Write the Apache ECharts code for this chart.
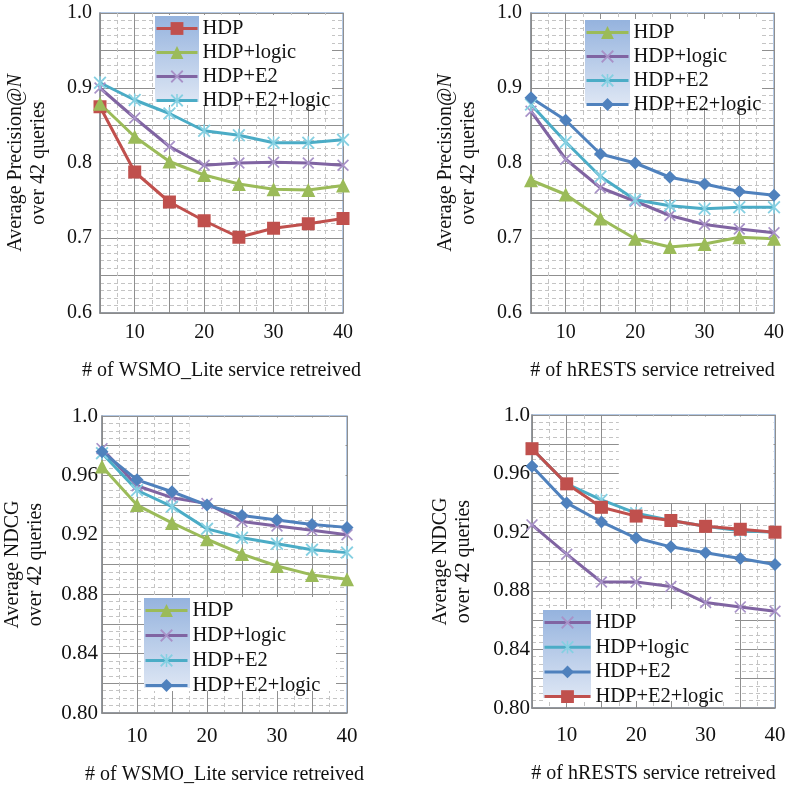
<!DOCTYPE html>
<html>
<head>
<meta charset="utf-8">
<script src="https://cdn.jsdelivr.net/npm/echarts@6/dist/echarts.min.js"></script>
<style>
html,body{margin:0;padding:0;background:#fff;}
#wrap{position:relative;width:787px;height:785px;overflow:hidden;background:#fff;}
.p{position:absolute;}
</style>
</head>
<body>
<div id="wrap">
  <div id="c1" class="p" style="left:0;top:0;width:393px;height:392px"></div>
  <div id="c2" class="p" style="left:393px;top:0;width:394px;height:392px"></div>
  <div id="c3" class="p" style="left:0;top:392px;width:393px;height:393px"></div>
  <div id="c4" class="p" style="left:393px;top:392px;width:394px;height:393px"></div>
</div>
<script>
// ---------------- DATA ----------------
const xValues = [5, 10, 15, 20, 25, 30, 35, 40];
const xTickLabels = ['10', '20', '30', '40'];
const yTicksPrecision = ['0.6', '0.7', '0.8', '0.9', '1.0'];
const yTicksNDCG = ['0.80', '0.84', '0.88', '0.92', '0.96', '1.0'];
const seriesNames = ['HDP', 'HDP+logic', 'HDP+E2', 'HDP+E2+logic'];

// Panel 1: Precision, WSMO_Lite
const p1HDP      = [0.875, 0.788, 0.748, 0.723, 0.701, 0.713, 0.719, 0.726];
const p1Logic    = [0.879, 0.835, 0.802, 0.784, 0.772, 0.765, 0.764, 0.770];
const p1E2       = [0.900, 0.860, 0.822, 0.797, 0.800, 0.801, 0.800, 0.797];
const p1E2Logic  = [0.907, 0.884, 0.866, 0.843, 0.837, 0.827, 0.827, 0.831];
// Panel 2: Precision, hRESTS
const p2HDP      = [0.777, 0.758, 0.726, 0.699, 0.688, 0.692, 0.701, 0.699];
const p2Logic    = [0.869, 0.805, 0.767, 0.749, 0.730, 0.718, 0.712, 0.707];
const p2E2       = [0.878, 0.828, 0.782, 0.751, 0.743, 0.739, 0.741, 0.741];
const p2E2Logic  = [0.887, 0.857, 0.812, 0.800, 0.781, 0.772, 0.762, 0.757];
// Panel 3: NDCG, WSMO_Lite
const p3HDP      = [0.966, 0.940, 0.928, 0.917, 0.907, 0.899, 0.893, 0.890];
const p3Logic    = [0.978, 0.953, 0.945, 0.941, 0.929, 0.926, 0.923, 0.920];
const p3E2       = [0.975, 0.950, 0.939, 0.924, 0.918, 0.914, 0.910, 0.908];
const p3E2Logic  = [0.976, 0.957, 0.949, 0.940, 0.933, 0.930, 0.927, 0.925];
// Panel 4: NDCG, hRESTS
const p4HDP      = [0.925, 0.905, 0.886, 0.886, 0.883, 0.872, 0.869, 0.866];
const p4Logic    = [0.977, 0.953, 0.942, 0.933, 0.928, 0.924, 0.921, 0.920];
const p4E2       = [0.965, 0.940, 0.927, 0.916, 0.910, 0.906, 0.902, 0.898];
const p4E2Logic  = [0.977, 0.953, 0.937, 0.931, 0.928, 0.924, 0.922, 0.920];

// ---------------- STYLES ----------------
const FONT = 'Liberation Serif';
const SYM_X = 'path://M0,1L1,0L5,4L9,0L10,1L6,5L10,9L9,10L5,6L1,10L0,9L4,5Z';
const SYM_STAR = 'path://M0,1L1,0L5,4L9,0L10,1L6,5L10,9L9,10L5,6L1,10L0,9L4,5Z M4.4,0L5.6,0L5.6,10L4.4,10Z';
const STY = {
  red:    {line: '#c0504d', mark: '#c0504d', symbol: 'rect', size: 13},
  green:  {line: '#9bbb59', mark: '#9bbb59', symbol: 'triangle', size: 14},
  purple: {line: '#8064a2', mark: '#a892c8', symbol: SYM_X, size: 12},
  cyan:   {line: '#4bacc6', mark: '#86d0e2', symbol: SYM_STAR, size: 13},
  blue:   {line: '#4f81bd', mark: '#4f81bd', symbol: 'diamond', size: 13}
};

const panels = [
  {el: 'c1', values: [p1HDP, p1Logic, p1E2, p1E2Logic], styles: ['red', 'green', 'purple', 'cyan'],
   grid: {left: 100, top: 13, width: 243, height: 300},
   yMin: 0.6, yMax: 1.0, yInt: 0.05, yMinor: 5, yTicks: yTicksPrecision, ndcg: false,
   yLabelMargin: 8, yNameGap: 50, xLabelMargin: 10, xNameGap: 48, fontTick: 20,
   xName: '# of WSMO_Lite service retreived',
   legend: {left: 155, top: 18, itemWidth: 41, itemGap: 3, boxW: 177, gradW: 44, boxH: 86}},
  {el: 'c2', values: [p2HDP, p2Logic, p2E2, p2E2Logic], styles: ['green', 'purple', 'cyan', 'blue'],
   grid: {left: 138, top: 13, width: 243, height: 300},
   yMin: 0.6, yMax: 1.0, yInt: 0.05, yMinor: 5, yTicks: yTicksPrecision, ndcg: false,
   yLabelMargin: 9, yNameGap: 51, xLabelMargin: 10, xNameGap: 48, fontTick: 20,
   xName: '# of hRESTS service retreived',
   legend: {left: 192, top: 22, itemWidth: 42, itemGap: 3, boxW: 177, gradW: 45, boxH: 84}},
  {el: 'c3', values: [p3HDP, p3Logic, p3E2, p3E2Logic], styles: ['green', 'purple', 'cyan', 'blue'],
   grid: {left: 102, top: 24, width: 245, height: 297},
   yMin: 0.8, yMax: 1.0, yInt: 0.02, yMinor: 4, yTicks: yTicksNDCG, ndcg: true,
   yLabelMargin: 4, yNameGap: 55, xLabelMargin: 13, xNameGap: 52, fontTick: 21,
   xName: '# of WSMO_Lite service retreived',
   legend: {left: 144, top: 208, itemWidth: 42, itemGap: 4, boxW: 192, gradW: 46, boxH: 90}},
  {el: 'c4', values: [p4HDP, p4Logic, p4E2, p4E2Logic], styles: ['purple', 'cyan', 'blue', 'red'],
   grid: {left: 139, top: 23, width: 243, height: 293},
   yMin: 0.8, yMax: 1.0, yInt: 0.02, yMinor: 4, yTicks: yTicksNDCG, ndcg: true,
   yLabelMargin: 2, yNameGap: 57, xLabelMargin: 17, xNameGap: 56, fontTick: 21,
   xName: '# of hRESTS service retreived',
   legend: {left: 150, top: 220, itemWidth: 46, itemGap: 3.7, boxW: 192, gradW: 48, boxH: 88}}
];

function build(p) {
  const chart = echarts.init(document.getElementById(p.el), null, {renderer: 'canvas'});
  const yName = p.ndcg
    ? '{n|Average NDCG}\n{n|over 42 queries}'
    : '{n|Average Precision@}{i|N}\n{n|over 42 queries}';
  const series = p.values.map((vals, i) => {
    const s = STY[p.styles[i]];
    return {
      name: seriesNames[i],
      type: 'line',
      data: xValues.map((x, k) => [x, vals[k]]),
      symbol: s.symbol,
      symbolSize: s.size,
      showAllSymbol: true,
      clip: false,
      lineStyle: {color: s.line, width: 3},
      itemStyle: {color: s.mark},
      emphasis: {disabled: true},
      animation: false
    };
  });
  const option = {
    animation: false,
    textStyle: {fontFamily: FONT},
    grid: Object.assign({show: true, borderColor: '#9ab7dc', borderWidth: 1.5,
      backgroundColor: 'transparent', containLabel: false, outerBoundsMode: 'none'}, p.grid),
    legend: {
      orient: 'vertical', left: p.legend.left, top: p.legend.top, padding: 0,
      itemWidth: p.legend.itemWidth, itemHeight: 16, itemGap: p.legend.itemGap,
      data: seriesNames,
      selectedMode: false,
      lineStyle: {width: 3},
      textStyle: {fontFamily: FONT, fontSize: 20.5, color: '#111', lineHeight: 20},
      z: 4
    },
    xAxis: {
      type: 'value', min: 5, max: 40, interval: 5,
      name: p.xName, nameLocation: 'middle', nameGap: p.xNameGap,
      nameTextStyle: {fontFamily: FONT, fontSize: 20, color: '#111'},
      axisLine: {show: true, onZero: false, lineStyle: {color: '#8a8a8a', width: 1.5}},
      axisTick: {show: false},
      axisLabel: {
        margin: p.xLabelMargin, fontFamily: FONT, fontSize: p.fontTick, color: '#111',
        formatter: v => { const t = String(Math.round(v)); return xTickLabels.indexOf(t) >= 0 ? t : ''; }
      },
      splitLine: {show: true, lineStyle: {color: '#8f8f8f', width: 1}},
      minorTick: {show: false, splitNumber: 2},
      minorSplitLine: {show: true, lineStyle: {color: '#c4c4c4', width: 1, type: [4, 3]}}
    },
    yAxis: {
      type: 'value', min: p.yMin, max: p.yMax, interval: p.yInt,
      name: yName, nameLocation: 'middle', nameGap: p.yNameGap, nameRotate: 90,
      nameTextStyle: {
        fontFamily: FONT, fontSize: 20, color: '#111', lineHeight: 23,
        rich: {
          n: {fontFamily: FONT, fontSize: 20, color: '#111', lineHeight: 23},
          i: {fontFamily: FONT, fontSize: 20, color: '#111', fontStyle: 'italic', lineHeight: 23}
        }
      },
      axisLine: {show: true, onZero: false, lineStyle: {color: '#8a8a8a', width: 1.5}},
      axisTick: {show: false},
      axisLabel: {
        margin: p.yLabelMargin, fontFamily: FONT, fontSize: p.fontTick, color: '#111',
        formatter: v => {
          const m = p.yTicks.find(t => Math.abs(parseFloat(t) - v) < 1e-6);
          return m || '';
        }
      },
      splitLine: {show: true, lineStyle: {color: '#8f8f8f', width: 1}},
      minorTick: {show: false, splitNumber: p.yMinor},
      minorSplitLine: {show: true, lineStyle: {color: '#c4c4c4', width: 1, type: [4, 3]}}
    },
    series: series
  };
  chart.setOption(option);

  const L = p.legend;
  const graphics = [
    {type: 'rect', z: 3, silent: true,
     shape: {x: L.left, y: L.top - 3, width: L.boxW, height: L.boxH + 4},
     style: {fill: '#ffffff'}},
    {type: 'rect', z: 3, z2: 1, silent: true,
     shape: {x: L.left, y: L.top - 2, width: L.gradW, height: L.boxH},
     style: {fill: new echarts.graphic.LinearGradient(0, 0, 0, 1, [
       {offset: 0, color: '#95b3de'}, {offset: 1, color: '#dde6f4'}])}}
  ];
  if (p.ndcg) {
    const a = chart.convertToPixel({gridIndex: 0}, [17.5, 1.0]);
    const b = chart.convertToPixel({gridIndex: 0}, [40, 0.94]);
    graphics.push({type: 'rect', z: 1, silent: true,
      shape: {x: a[0], y: a[1] + 1.5, width: b[0] - a[0] - 1.5, height: b[1] - a[1] - 1.5},
      style: {fill: '#ffffff'}});
  }
  chart.setOption({graphic: graphics});
}
panels.forEach(build);
</script>
</body>
</html>
